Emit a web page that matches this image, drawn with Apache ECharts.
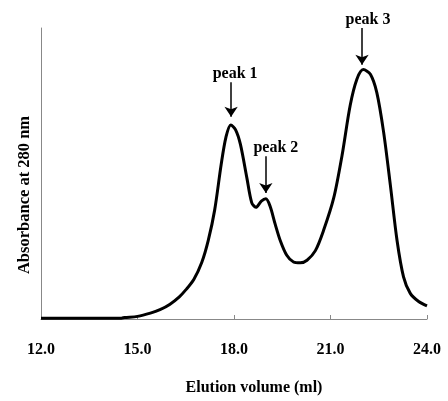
<!DOCTYPE html>
<html>
<head>
<meta charset="utf-8">
<script src="https://cdn.jsdelivr.net/npm/echarts@6/dist/echarts.min.js"></script>
<style>html,body{margin:0;padding:0;background:#fff;}#c{width:448px;height:401px;}</style>
</head>
<body>
<div id="c"></div>
<script>
// Elution volume (ml)
const volume = [12.0, 14.5, 14.6, 15.0, 15.4, 15.7, 16.0, 16.3, 16.5, 16.75, 17.0, 17.2, 17.4, 17.6, 17.75, 17.9, 18.05, 18.2, 18.4, 18.55, 18.68, 18.85, 18.99, 19.12, 19.28, 19.44, 19.64, 19.85, 20.06, 20.27, 20.53, 20.78, 21.1, 21.36, 21.61, 21.82, 22.02, 22.24, 22.44, 22.65, 22.86, 23.07, 23.27, 23.48, 23.74, 24.0];
// Absorbance at 280 nm (arbitrary units)
const absorbance = [0.3, 0.3, 0.5, 0.9, 2.0, 3.2, 5.0, 7.6, 10.0, 13.6, 19.5, 27, 37.5, 53, 62.5, 66.7, 65, 60, 48.5, 40, 38.4, 40.5, 41.3, 38.8, 32.6, 26.9, 21.9, 19.6, 19.3, 20.2, 23.5, 30.3, 41.6, 56.3, 73.3, 82.4, 85.7, 84.1, 77.8, 64.3, 46.1, 26.9, 14.5, 8.8, 6.0, 4.5];
const xTicks = [12, 15, 18, 21, 24];
// Peak annotations
const peakNames = ['peak 1', 'peak 2', 'peak 3'];
const peakX = [17.91, 18.99, 21.98];
const arrowTop = [81.4, 55.9, 100];
const arrowEnd = [69.5, 43.3, 87.4];
const labelShift = [4, 10, 6];

const font = '"Liberation Serif", "Times New Roman", serif';
const chart = echarts.init(document.getElementById('c'));
chart.setOption({
  animation: false,
  grid: { left: 41, right: 21, top: 28, bottom: 78 },
  xAxis: {
    type: 'value', min: xTicks[0], max: xTicks[xTicks.length - 1], interval: 3,
    name: 'Elution volume (ml)', nameLocation: 'middle', nameGap: 61,
    nameTextStyle: { fontFamily: font, fontWeight: 'bold', fontSize: 16, color: '#000', padding: [0, 0, 0, 40] },
    axisLine: { lineStyle: { color: '#888', width: 1 } },
    axisTick: { inside: true, length: 4, lineStyle: { color: '#888' } },
    axisLabel: { margin: 23, fontFamily: font, fontWeight: 'bold', fontSize: 16, color: '#000', formatter: v => v.toFixed(1) },
    splitLine: { show: false }
  },
  yAxis: {
    type: 'value', min: 0, max: 100,
    name: 'Absorbance at 280 nm', nameLocation: 'middle', nameGap: 8,
    nameTextStyle: { fontFamily: font, fontWeight: 'bold', fontSize: 16.5, color: '#000', padding: [0, 43, 0, 0] },
    axisLine: { show: true, lineStyle: { color: '#888', width: 1 } },
    axisTick: { show: false },
    axisLabel: { show: false },
    splitLine: { show: false }
  },
  series: [{
    type: 'line',
    data: volume.map((v, i) => [v, absorbance[i]]),
    showSymbol: false,
    smooth: 0.3,
    clip: false,
    lineStyle: { color: '#000', width: 3 },
    markLine: {
      silent: true,
      symbol: ['none', 'arrow'],
      symbolSize: 10,
      lineStyle: { color: '#000', width: 1.5, type: 'solid' },
      label: { show: true, position: 'start', distance: 0, fontFamily: font, fontWeight: 'bold', fontSize: 16, color: '#000', formatter: p => p.name },
      data: peakNames.map((n, i) => [
        { name: n, coord: [peakX[i], arrowTop[i]], label: { padding: [0, 0, 0, labelShift[i] * 2] } },
        { coord: [peakX[i], arrowEnd[i]] }
      ])
    }
  }]
});
</script>
</body>
</html>
